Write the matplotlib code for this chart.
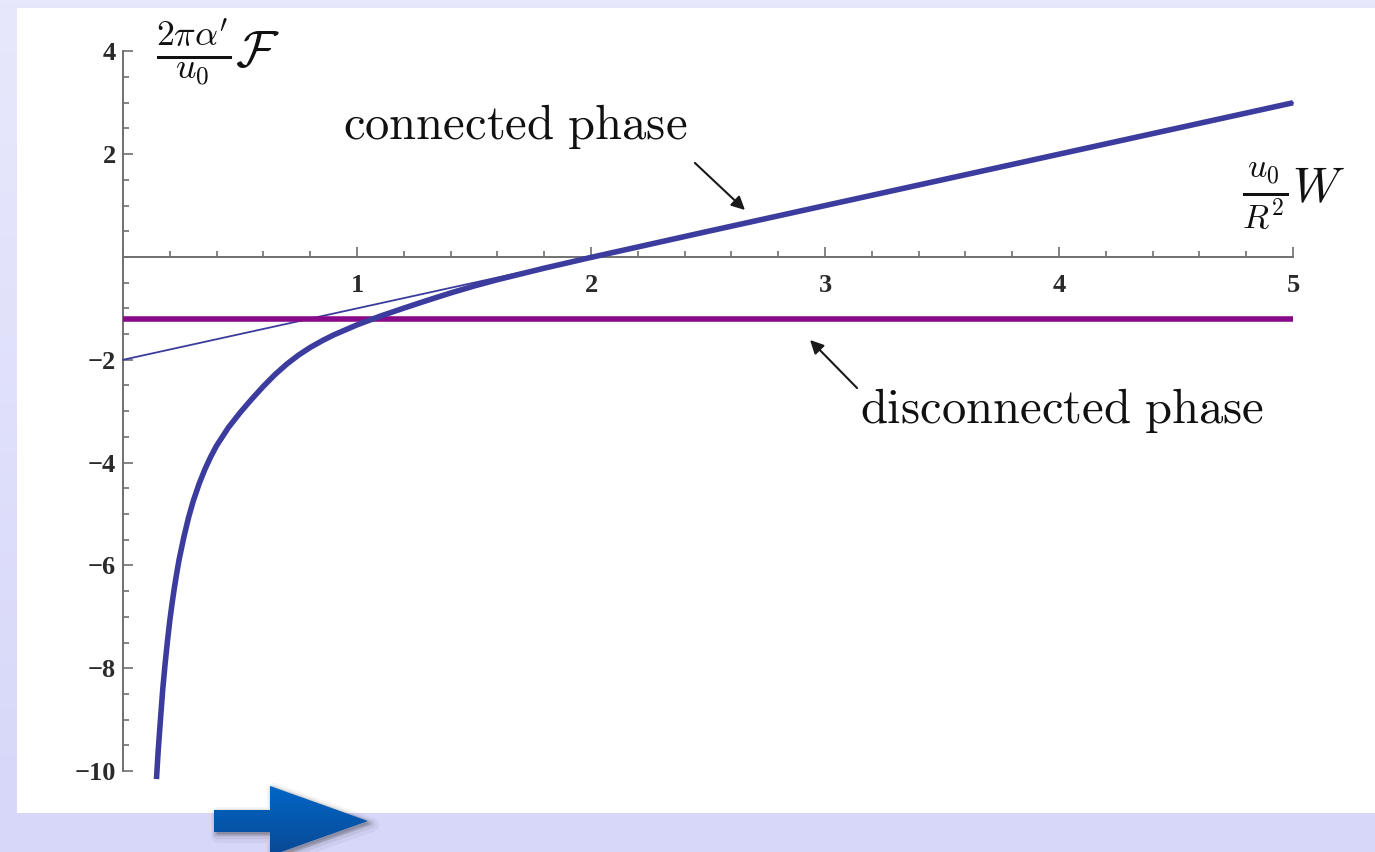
import numpy as np
import matplotlib
matplotlib.use("Agg")
import matplotlib.pyplot as plt
from matplotlib.patches import Rectangle, Polygon
from matplotlib.ticker import MultipleLocator, FixedLocator
from matplotlib.colors import LinearSegmentedColormap

plt.rcParams['mathtext.fontset'] = 'cm'

# Connected phase: free energy vs separation
W_conn = [0.143, 0.15, 0.16, 0.17, 0.18, 0.19, 0.20, 0.21, 0.22, 0.23, 0.24,
          0.26, 0.28, 0.30, 0.325, 0.35, 0.375, 0.40, 0.45, 0.50, 0.55, 0.60,
          0.65, 0.70, 0.75, 0.80, 0.85, 0.90, 1.0, 1.1, 1.2, 1.3, 1.4, 1.5,
          1.6, 1.8, 2.0, 2.5, 3.0, 4.0, 5.0]
F_conn = [-10.157, -9.63, -9.00, -8.40, -7.91, -7.47, -7.07, -6.73, -6.42,
          -6.14, -5.88, -5.45, -5.07, -4.75, -4.415, -4.13, -3.885, -3.67,
          -3.32, -3.03, -2.765, -2.515, -2.285, -2.083, -1.909, -1.76, -1.632,
          -1.517, -1.321, -1.15, -0.995, -0.845, -0.70, -0.565, -0.442, -0.218,
          -0.008, 0.499, 1.0, 2.0, 3.0]
# Large-W asymptote of the connected branch
W_asym = [0.0, 5.0]
F_asym = [-2.0, 3.0]
# Disconnected phase (constant)
W_disc = [0.0, 5.0]
F_disc = [-1.21, -1.21]

x_major = [1, 2, 3, 4, 5]
y_major = [-10, -8, -6, -4, -2, 2, 4]

W_PX, H_PX = 1375, 852
fig = plt.figure(figsize=(W_PX / 100, H_PX / 100), dpi=100)

# ---- slide background -------------------------------------------------
bg = fig.add_axes([0, 0, 1, 1], zorder=0)
bg.set_xlim(0, W_PX)
bg.set_ylim(H_PX, 0)
bg.axis('off')
grad = LinearSegmentedColormap.from_list('lav', ['#e8e8fc', '#d6d7f9'])
bg.imshow(np.linspace(0, 1, 256)[:, None], cmap=grad, aspect='auto',
          extent=(0, W_PX, H_PX, 0), zorder=0)
bg.add_patch(Rectangle((17, 8), W_PX - 17, 805, facecolor='white',
                       edgecolor='none', zorder=1))

# blue block arrow with soft shadow
arrow_pts = [(214, 810), (270, 810), (270, 786), (368, 821),
             (270, 856), (270, 832), (214, 832)]
for off, lw, a in [(4, 10, 0.04), (3, 6, 0.06), (2, 3, 0.10)]:
    bg.add_patch(Polygon([(x + off, y + off) for x, y in arrow_pts],
                         closed=True, facecolor='black', edgecolor='black',
                         lw=lw, alpha=a, joinstyle='round', zorder=2))
arrow_patch = Polygon(arrow_pts, closed=True, facecolor='none',
                      edgecolor='none', zorder=3)
bg.add_patch(arrow_patch)
acmap = LinearSegmentedColormap.from_list('blu', ['#0066c6', '#0a4894'])
im = bg.imshow(np.linspace(0, 1, 256)[:, None], cmap=acmap, aspect='auto',
               extent=(214, 368, 856, 786), zorder=3)
im.set_clip_path(arrow_patch)
bg.set_xlim(0, W_PX)
bg.set_ylim(H_PX, 0)

# ---- plot ---------------------------------------------------------------
ax = fig.add_axes([0.07244, 0.07089, 0.88495, 0.89296], zorder=2)
ax.patch.set_alpha(0)
ax.set_xlim(-0.1, 5.1)
ax.set_ylim(-10.4, 4.4)

blue = '#3c3c9e'
purple = '#880a88'
ax.plot(W_asym, F_asym, color=blue, lw=1.3, zorder=3)
ax.plot(W_disc, F_disc, color=purple, lw=4.0, solid_capstyle='butt', zorder=4)
ax.plot(W_conn, F_conn, color=blue, lw=4.0, solid_capstyle='butt',
        solid_joinstyle='round', zorder=5)

for s in ['top', 'right']:
    ax.spines[s].set_visible(False)
ax.spines['left'].set_position(('data', 0))
ax.spines['bottom'].set_position(('data', 0))
ax.spines['left'].set_bounds(-10, 4)
ax.spines['bottom'].set_bounds(0, 5)
for s in ['left', 'bottom']:
    ax.spines[s].set_color('#707070')
    ax.spines[s].set_linewidth(1.4)

ax.xaxis.set_major_locator(FixedLocator(x_major))
ax.xaxis.set_minor_locator(MultipleLocator(0.2))
ax.yaxis.set_major_locator(FixedLocator(y_major))
ax.yaxis.set_minor_locator(MultipleLocator(0.5))
ax.tick_params(which='both', direction='in', color='#707070', width=1.2)
ax.tick_params(which='major', length=7)
ax.tick_params(which='minor', length=4.5)
ax.tick_params(axis='x', which='major', pad=12)
ax.tick_params(axis='y', which='major', pad=5)
ax.set_xticklabels([str(v) for v in x_major])
ax.set_yticklabels([str(v).replace('-', '\u2212') for v in y_major])
for lab in ax.get_xticklabels() + ax.get_yticklabels():
    lab.set_fontfamily('Liberation Serif')
    lab.set_fontsize(19)
    lab.set_fontweight('bold')
    lab.set_color('#2a2a2a')

# axis labels
ax.text(0.406, 3.99, r"$\frac{2\pi\alpha'}{u_0}\mathcal{F}$", fontsize=37,
        ha='center', va='center', color='#111')
ax.text(5.004, 1.17, r"$\frac{u_0}{R^2}W$", fontsize=35,
        ha='center', va='center', color='#111')

# phase annotations
ax.text(1.675, 2.53, r"$\mathrm{connected\ phase}$", fontsize=35,
        ha='center', va='center', color='#111')
ax.annotate('', xy=(2.658, 0.914), xytext=(2.444, 1.83),
            arrowprops=dict(arrowstyle='-|>', color='#1a1a1a', lw=1.5,
                            mutation_scale=20, shrinkA=0, shrinkB=0))
ax.text(4.013, -2.98, r"$\mathrm{disconnected\ phase}$", fontsize=35,
        ha='center', va='center', color='#111')
ax.annotate('', xy=(2.936, -1.615), xytext=(3.137, -2.55),
            arrowprops=dict(arrowstyle='-|>', color='#1a1a1a', lw=1.5,
                            mutation_scale=20, shrinkA=0, shrinkB=0))

fig.savefig('out.png', dpi=100)
